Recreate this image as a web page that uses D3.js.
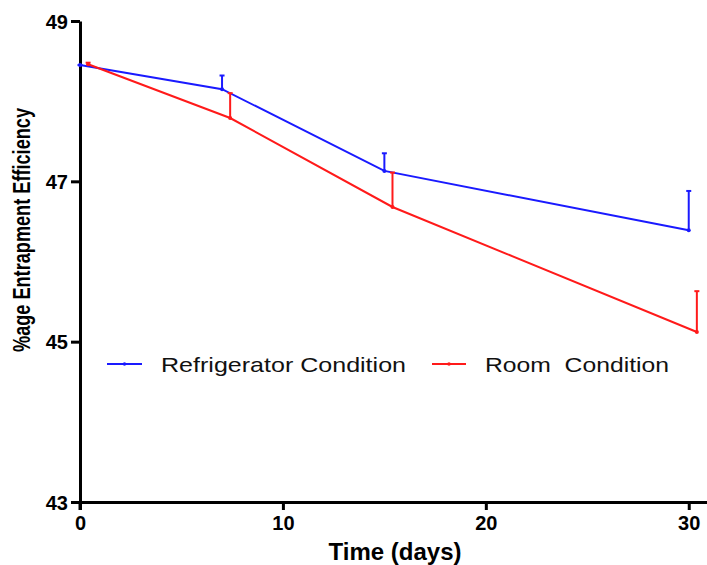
<!DOCTYPE html>
<html>
<head>
<meta charset="utf-8">
<script src="https://cdn.jsdelivr.net/npm/d3@7"></script>
<style>
  body { margin: 0; background: #fff; }
  svg { display: block; font-family: "Liberation Sans", Arial, sans-serif; }
</style>
</head>
<body>
<div id="chart"></div>
<script>
// values
var fridgeDays = [0, 7, 15, 30];
var fridgeMean = [48.45, 48.15, 47.13, 46.39];
var fridgeSd = [0, 0.17, 0.22, 0.49];

var roomDays = [0.4, 7.4, 15.4, 30.4];
var roomMean = [48.46, 47.79, 46.68, 45.12];
var roomSd = [0.02, 0.31, 0.43, 0.51];

var xTicks = [0, 10, 20, 30];
var yTicks = [43, 45, 47, 49];

var width = 707, height = 565;

var svg = d3.select("#chart").append("svg")
  .attr("width", width)
  .attr("height", height);

var x = d3.scaleLinear().domain([0, 30.9]).range([80, 707]);
var y = d3.scaleLinear().domain([43, 49]).range([502, 21]);

// axes
var xAxis = svg.append("g")
  .attr("transform", "translate(0," + y(43) + ")")
  .call(d3.axisBottom(x).tickValues(xTicks).tickFormat(d3.format("d"))
    .tickSize(8).tickPadding(6).tickSizeOuter(0));
var yAxis = svg.append("g")
  .attr("transform", "translate(" + x(0) + ",0)")
  .call(d3.axisLeft(y).tickValues(yTicks).tickFormat(d3.format("d"))
    .tickSize(9).tickPadding(3).tickSizeOuter(0));

[xAxis, yAxis].forEach(function (g) {
  g.select(".domain").attr("stroke", "#000").attr("stroke-width", 3);
  g.selectAll(".tick line").attr("stroke", "#000").attr("stroke-width", 3);
  g.selectAll(".tick text")
    .attr("fill", "#000")
    .attr("font-family", "'Liberation Sans', Arial, sans-serif")
    .attr("font-weight", "bold")
    .attr("font-size", 20);
});
yAxis.selectAll(".tick text").attr("dy", "0.36em");
// y axis runs a bit below the x axis
yAxis.append("line")
  .attr("x1", 0).attr("x2", 0)
  .attr("y1", y(43)).attr("y2", y(43) + 8)
  .attr("stroke", "#000").attr("stroke-width", 3);

function series(days, mean, sd, color) {
  var pts = days.map(function (d, i) { return { x: d, m: mean[i], s: sd[i] }; });
  var g = svg.append("g");
  g.append("path")
    .datum(pts)
    .attr("fill", "none")
    .attr("stroke", color)
    .attr("stroke-width", 2)
    .attr("d", d3.line()
      .x(function (d) { return x(d.x); })
      .y(function (d) { return y(d.m); }));
  // error bars (upper only)
  var eb = g.selectAll(".eb").data(pts).enter().append("g");
  eb.append("line")
    .attr("x1", function (d) { return x(d.x); })
    .attr("x2", function (d) { return x(d.x); })
    .attr("y1", function (d) { return y(d.m); })
    .attr("y2", function (d) { return y(d.m + d.s); })
    .attr("stroke", color).attr("stroke-width", 2);
  eb.append("line")
    .attr("x1", function (d) { return x(d.x) - 2.5; })
    .attr("x2", function (d) { return x(d.x) + 2.5; })
    .attr("y1", function (d) { return y(d.m + d.s); })
    .attr("y2", function (d) { return y(d.m + d.s); })
    .attr("stroke", color).attr("stroke-width", 2);
  eb.append("circle")
    .attr("cx", function (d) { return x(d.x); })
    .attr("cy", function (d) { return y(d.m); })
    .attr("r", 2)
    .attr("fill", color);
}

series(fridgeDays, fridgeMean, fridgeSd, "#1a1aff");
series(roomDays, roomMean, roomSd, "#ff1a1a");

// legend
var legend = [
  { label: "Refrigerator Condition", color: "#1a1aff", x0: 107, x1: 142, tx: 161, tl: 245 },
  { label: "Room  Condition", color: "#ff1a1a", x0: 432, x1: 466, tx: 485, tl: 184 }
];
var lg = svg.append("g");
legend.forEach(function (l) {
  lg.append("line")
    .attr("x1", l.x0).attr("x2", l.x1)
    .attr("y1", 364).attr("y2", 364)
    .attr("stroke", l.color).attr("stroke-width", 2);
  lg.append("circle")
    .attr("cx", (l.x0 + l.x1) / 2).attr("cy", 364).attr("r", 1.8)
    .attr("fill", l.color);
  lg.append("text")
    .attr("x", l.tx).attr("y", 372)
    .attr("font-size", 21)
    .attr("fill", "#111")
    .attr("textLength", l.tl)
    .attr("lengthAdjust", "spacingAndGlyphs")
    .style("white-space", "pre")
    .text(l.label);
});

// axis titles
svg.append("text")
  .attr("x", 395).attr("y", 560)
  .attr("text-anchor", "middle")
  .attr("font-size", 24)
  .attr("font-weight", "bold")
  .text("Time (days)");

svg.append("text")
  .attr("transform", "translate(30,230) rotate(-90)")
  .attr("text-anchor", "middle")
  .attr("font-size", 23)
  .attr("font-weight", "bold")
  .attr("textLength", 244)
  .attr("lengthAdjust", "spacingAndGlyphs")
  .text("%age Entrapment Efficiency");
</script>
</body>
</html>
